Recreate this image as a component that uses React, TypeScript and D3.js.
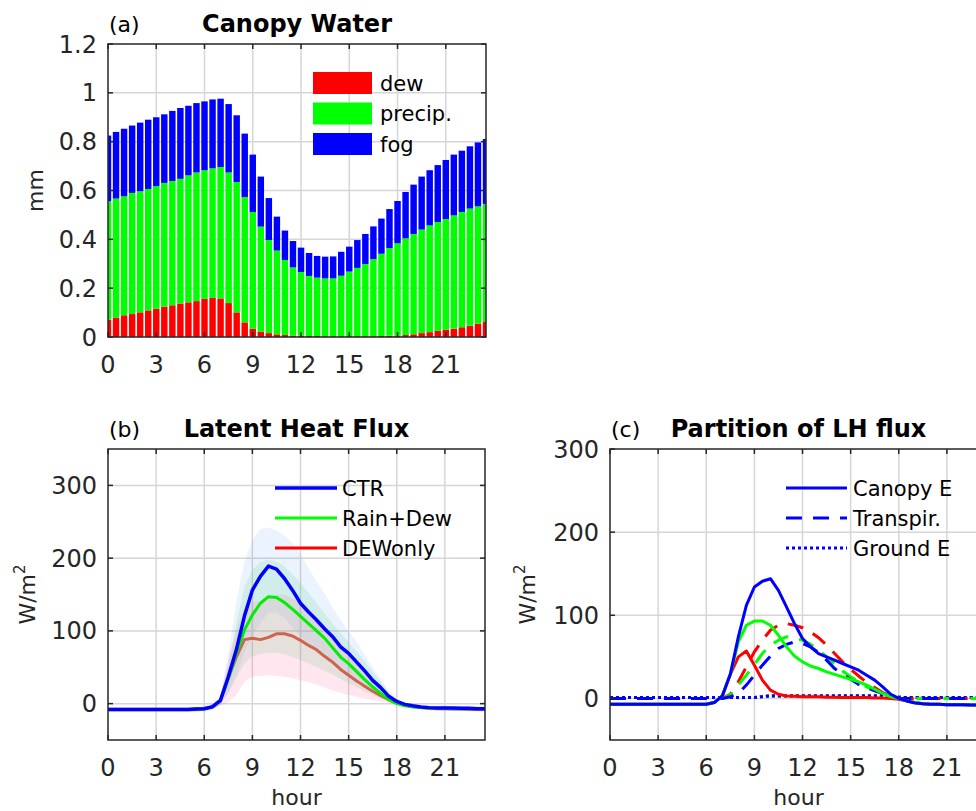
import * as d3 from "d3";
import type { ReactNode } from "react";

const FONT = "DejaVu Sans, Verdana, sans-serif";
const INK = "#262626";

// half-hourly time axis
const hours = [
  0, 0.5, 1, 1.5, 2, 2.5, 3, 3.5, 4, 4.5, 5, 5.5, 6, 6.5, 7, 7.5, 8, 8.5, 9, 9.5, 10, 10.5, 11, 11.5,
  12, 12.5, 13, 13.5, 14, 14.5, 15, 15.5, 16, 16.5, 17, 17.5, 18, 18.5, 19, 19.5, 20, 20.5, 21, 21.5,
  22, 22.5, 23, 23.5,
];
const hourTicks = [0, 3, 6, 9, 12, 15, 18, 21];

// (a) canopy water components, mm
const dew = [
  0.071, 0.08, 0.089, 0.094, 0.101, 0.109, 0.116, 0.124, 0.13, 0.137, 0.142, 0.147, 0.156, 0.16, 0.158,
  0.139, 0.101, 0.06, 0.034, 0.022, 0.016, 0.011, 0.008, 0.006, 0.005, 0.004, 0.004, 0.003, 0.003, 0.003,
  0.003, 0.003, 0.003, 0.003, 0.004, 0.005, 0.006, 0.008, 0.011, 0.016, 0.02, 0.025, 0.03, 0.034, 0.04,
  0.046, 0.055, 0.064,
];
const precip = [
  0.485, 0.487, 0.487, 0.496, 0.496, 0.497, 0.502, 0.507, 0.509, 0.511, 0.52, 0.527, 0.527, 0.531, 0.538,
  0.535, 0.534, 0.513, 0.478, 0.43, 0.381, 0.343, 0.307, 0.279, 0.261, 0.246, 0.239, 0.237, 0.237, 0.248,
  0.265, 0.28, 0.296, 0.316, 0.337, 0.359, 0.378, 0.396, 0.411, 0.424, 0.437, 0.446, 0.453, 0.464, 0.472,
  0.48, 0.48, 0.481,
];
const fog = [
  0.269, 0.273, 0.277, 0.276, 0.281, 0.284, 0.282, 0.281, 0.287, 0.29, 0.285, 0.284, 0.282, 0.282, 0.28,
  0.28, 0.273, 0.26, 0.235, 0.205, 0.172, 0.139, 0.121, 0.108, 0.1, 0.094, 0.089, 0.089, 0.09, 0.098,
  0.102, 0.114, 0.123, 0.134, 0.144, 0.16, 0.173, 0.19, 0.202, 0.217, 0.226, 0.233, 0.242, 0.249, 0.251,
  0.255, 0.262, 0.266,
];
const waterKeys = ["dew", "precip", "fog"];
const waterLabels = ["dew", "precip.", "fog"];
const waterColors = ["#ff0000", "#00ff00", "#0000ff"];
const aYTicks = [0, 0.2, 0.4, 0.6, 0.8, 1, 1.2];

// (b) latent heat flux, W/m2
const ctr = [
  -8, -8, -8, -8, -8, -8, -8, -8, -8, -8, -8, -7.5, -7, -4.5, 4, 37, 74, 120, 156, 175, 189, 185, 172,
  156, 138, 126, 115, 103, 92, 78, 69, 57, 45, 32, 22, 10, 3, -1, -3, -4.5, -5.5, -6, -6, -6, -6.5, -6.5,
  -7, -7,
];
const rainDew = [
  -8, -8, -8, -8, -8, -8, -8, -8, -8, -8, -8, -7.5, -7, -4.5, 4, 35, 69, 101, 122, 138, 147, 146, 139,
  130, 120, 110, 100, 90, 77, 64, 55, 44, 33, 23, 14, 5.5, 0, -3, -4.5, -5.5, -6, -6.5, -6.5, -7, -7, -7,
  -7, -7,
];
const dewOnly = [
  -8, -8, -8, -8, -8, -8, -8, -8, -8, -8, -8, -7.5, -7, -4.5, 4, 35, 64, 88, 90, 88, 91, 96, 96, 93, 87,
  80, 74, 65, 57, 47, 39, 31, 24, 17, 11, 5.5, 1, -2, -4, -5.5, -6.5, -7, -7, -7.5, -7.5, -8, -8, -8,
];
// spread bands
const ctrHi = [
  -5, -5, -5, -5, -5, -5, -5, -5, -5, -5, -5, -5, -4, -1, 10, 70, 140, 195, 225, 240, 242, 238, 231, 220,
  205, 186, 168, 152, 132, 115, 100, 85, 67, 50, 34, 18, 6, 1, -1, -2, -3, -3, -3, -4, -4, -4, -4, -4,
];
const ctrLo = [
  -11, -11, -11, -11, -11, -11, -11, -11, -11, -11, -11, -11, -10, -8, -2, 15, 40, 70, 95, 110, 125, 125,
  118, 105, 92, 82, 72, 62, 54, 44, 37, 30, 22, 15, 9, 3, 0, -3, -5, -6, -8, -8, -9, -9, -9, -10, -10, -10,
];
const rainHi = [
  -5, -5, -5, -5, -5, -5, -5, -5, -5, -5, -5, -5, -4, -1, 8, 50, 110, 160, 184, 195, 198, 195, 189, 178,
  166, 152, 138, 124, 110, 97, 84, 72, 58, 44, 30, 15, 4, 0, -2, -3, -4, -4, -4, -4, -4, -4, -4, -4,
];
const rainLo = [
  -11, -11, -11, -11, -11, -11, -11, -11, -11, -11, -11, -11, -10, -8, -2, 15, 35, 55, 65, 68, 70, 70, 68,
  64, 60, 55, 50, 45, 40, 34, 28, 22, 17, 12, 7, 3, -1, -4, -6, -7, -8, -9, -9, -9, -10, -10, -10, -10,
];
const dewHi = [
  -5, -5, -5, -5, -5, -5, -5, -5, -5, -5, -5, -5, -4, -1, 8, 60, 100, 130, 140, 140, 145, 150, 150, 145,
  138, 128, 118, 105, 94, 82, 70, 58, 46, 34, 22, 12, 3, 0, -2, -3, -4, -4, -4, -4, -4, -5, -5, -5,
];
const dewLo = [
  -11, -11, -11, -11, -11, -11, -11, -11, -11, -11, -11, -11, -10, -8, -3, 2, 12, 30, 37, 38, 39, 38, 37,
  35, 32, 29, 26, 22, 18, 15, 12, 9, 7, 5, 3, 1, -1, -4, -6, -8, -9, -9, -10, -10, -10, -11, -11, -11,
];
const bYTicks = [0, 100, 200, 300];
const runNames = ["CTR", "Rain+Dew", "DEWonly"];

// (c) partition of LH flux, W/m2
const canopyCtr = [
  -7, -7, -7, -7, -7, -7, -7, -7, -7, -7, -7, -7, -7, -5, 3, 29, 74, 112, 134, 141, 144, 130, 110, 90, 72,
  62, 54, 50, 46, 42, 38, 34, 28, 22, 14, 5, 0, -3, -5.5, -6.5, -7, -7, -7.5, -7.5, -7.5, -8, -8, -8,
];
const canopyRain = [
  -7, -7, -7, -7, -7, -7, -7, -7, -7, -7, -7, -7, -7, -5, 3, 29, 68, 88, 93, 93, 88, 76, 62, 51, 44, 39,
  36, 32, 29, 26, 23, 20, 16, 11, 6, 2, 0, -3, -5, -6.5, -7, -7, -7.5, -7.5, -7.5, -8, -8, -8,
];
const canopyDew = [
  -7, -7, -7, -7, -7, -7, -7, -7, -7, -7, -7, -7, -7, -5, 3, 29, 50, 57, 40, 22, 10, 5, 3, 2.5, 2, 2, 2,
  1.5, 1.5, 1, 1, 1, 1, 0.5, 0.5, 0, -1, -3, -5, -6.5, -7, -7, -7.5, -7.5, -7.5, -8, -8, -8,
];
const transpCtr = [
  0, 0, 0, 0, 0, 0, 0, 0, 0, 0, 0, 0, 0, 0, 0, 2, 6, 16, 28, 40, 51, 60, 65, 68, 66, 62, 55, 46, 36, 29,
  23, 17, 13, 9, 6, 3, 0, 0, 0, 0, 0, 0, 0, 0, 0, 0, 0, 0,
];
const transpRain = [
  0, 0, 0, 0, 0, 0, 0, 0, 0, 0, 0, 0, 0, 0, 0, 4, 16, 28, 41, 54, 64, 70, 74, 73, 70, 65, 58, 50, 42, 33,
  26, 20, 14, 10, 6, 3, 0, 0, 0, 0, 0, 0, 0, 0, 0, 0, 0, 0,
];
const transpDew = [
  0, 0, 0, 0, 0, 0, 0, 0, 0, 0, 0, 0, 0, 0, 0, 5, 20, 38, 56, 70, 82, 88, 90, 88, 85, 80, 73, 64, 54, 44,
  35, 27, 19, 13, 7, 3, 0, 0, 0, 0, 0, 0, 0, 0, 0, 0, 0, 0,
];
const groundCtr = [
  1, 1, 1, 1, 1, 1, 1, 1, 1, 1, 1, 1, 1, 1, 1, 1, 1, 1, 1, 2, 3, 3, 3, 3, 3, 3, 3, 3, 3, 3, 3, 3, 3, 3, 3,
  3, 1.5, 1, 1, 1, 1, 1, 1, 1, 1, 1, 1, 1,
];
const groundRain = [
  1, 1, 1, 1, 1, 1, 1, 1, 1, 1, 1, 1, 1, 1, 1, 1, 1, 1, 1, 2, 3, 3, 3, 3, 3, 3, 3, 3, 3, 3, 3, 3, 3, 3, 3,
  3, 1.5, 1, 1, 1, 1, 1, 1, 1, 1, 1, 1, 1,
];
const groundDew = [
  1, 1, 1, 1, 1, 1, 1, 1, 1, 1, 1, 1, 1, 1, 1, 1, 1, 1, 1, 2.5, 3.5, 3.5, 3.5, 3.5, 3.5, 3.5, 3.5, 3.5,
  3.5, 3.5, 3.5, 3.5, 3.5, 3.5, 3.5, 3.5, 1.5, 1, 1, 1, 1, 1, 1, 1, 1, 1, 1, 1,
];
const cYTicks = [0, 100, 200, 300];
const partNames = ["Canopy E", "Transpir.", "Ground E"];

type Lin = d3.ScaleLinear<number, number>;

type FrameProps = {
  id: string;
  x: Lin;
  y: Lin;
  yTicks: number[];
  tag: string;
  title: string;
  ylabel: ReactNode;
  ylabelX: number;
  xlabel?: string;
  children: ReactNode;
  overlay?: ReactNode;
};

const Frame = ({ id, x, y, yTicks, tag, title, ylabel, ylabelX, xlabel, children, overlay }: FrameProps) => {
  const [x0, x1] = x.range();
  const [y0, y1] = y.range(); // y0 bottom, y1 top
  const fmt = d3.format("~g");
  const tick = 5;
  return (
    <g>
      <defs>
        <clipPath id={id}>
          <rect x={x0} y={y1} width={x1 - x0} height={y0 - y1} />
        </clipPath>
      </defs>
      <rect x={x0} y={y1} width={x1 - x0} height={y0 - y1} fill="#fff" />
      <g stroke="#d6d6d6" strokeWidth={1.5}>
        {hourTicks.slice(1).map((t) => (
          <line key={"gx" + t} x1={x(t)} x2={x(t)} y1={y0} y2={y1} />
        ))}
        {yTicks
          .filter((t) => t > y.domain()[0] && t < y.domain()[1])
          .map((t) => (
            <line key={"gy" + t} x1={x0} x2={x1} y1={y(t)} y2={y(t)} />
          ))}
      </g>
      <g clipPath={`url(#${id})`}>{children}</g>
      <g stroke={INK} strokeWidth={1.5}>
        {hourTicks.map((t) => (
          <g key={"tx" + t}>
            <line x1={x(t)} x2={x(t)} y1={y0} y2={y0 - tick} />
            <line x1={x(t)} x2={x(t)} y1={y1} y2={y1 + tick} />
          </g>
        ))}
        {yTicks.map((t) => (
          <g key={"ty" + t}>
            <line x1={x0} x2={x0 + tick} y1={y(t)} y2={y(t)} />
            <line x1={x1} x2={x1 - tick} y1={y(t)} y2={y(t)} />
          </g>
        ))}
        <rect x={x0} y={y1} width={x1 - x0} height={y0 - y1} fill="none" />
      </g>
      <g fontFamily={FONT} fontSize={24} fill={INK}>
        {hourTicks.map((t) => (
          <text key={"lx" + t} x={x(t)} y={y0 + 36} textAnchor="middle">
            {t}
          </text>
        ))}
        {yTicks.map((t) => (
          <text key={"ly" + t} x={x0 - 11} y={y(t) + 8.5} textAnchor="end">
            {fmt(t)}
          </text>
        ))}
      </g>
      <text x={x0 + 1} y={y1 - 12} fontFamily={FONT} fontSize={22} fill="#000">
        {tag}
      </text>
      <text
        x={(x0 + x1) / 2}
        y={y1 - 12}
        fontFamily={FONT}
        fontSize={24}
        fontWeight="bold"
        textAnchor="middle"
        fill="#000"
      >
        {title}
      </text>
      <text
        transform={`translate(${ylabelX},${(y0 + y1) / 2}) rotate(-90)`}
        fontFamily={FONT}
        fontSize={22}
        textAnchor="middle"
        fill={INK}
      >
        {ylabel}
      </text>
      {xlabel && (
        <text x={(x0 + x1) / 2} y={y0 + 65} fontFamily={FONT} fontSize={22} textAnchor="middle" fill={INK}>
          {xlabel}
        </text>
      )}
      {overlay}
    </g>
  );
};

const wm2 = (
  <>
    W/m
    <tspan dy={-10} fontSize={15}>
      2
    </tspan>
  </>
);

export default function App() {
  const xDomain: [number, number] = [0, 23.5];

  // ---- (a)
  const xa = d3.scaleLinear().domain(xDomain).range([108, 486]);
  const ya = d3.scaleLinear().domain([0, 1.2]).range([337, 44]);
  const rows = hours.map((h, i) => ({ h, dew: dew[i], precip: precip[i], fog: fog[i] }));
  const stacked = d3.stack<(typeof rows)[number]>().keys(waterKeys)(rows);
  const barW = xa(0.4) - xa(0);

  // ---- (b)
  const xb = d3.scaleLinear().domain(xDomain).range([108, 485]);
  const yb = d3.scaleLinear().domain([-50, 350]).range([740, 449]);
  const lineB = d3
    .line<number>()
    .x((_, i) => xb(hours[i]))
    .y((v) => yb(v));
  const bandB = (lo: number[], hi: number[]) =>
    d3
      .area<number>()
      .x((_, i) => xb(hours[i]))
      .y0((_, i) => yb(lo[i]))
      .y1((_, i) => yb(hi[i]))(hours) ?? "";

  // ---- (c)
  const xc = d3.scaleLinear().domain(xDomain).range([610, 987]);
  const yc = d3.scaleLinear().domain([-50, 300]).range([740, 449]);
  const lineC = d3
    .line<number>()
    .x((_, i) => xc(hours[i]))
    .y((v) => yc(v));

  const runColors = ["#0000ff", "#00ff00", "#ff0000"];
  const dash = "16,11";
  const dot = "3,3";

  return (
    <div style={{ position: "absolute", left: 0, top: 0 }}>
      <svg width={976} height={811} style={{ display: "block", background: "#fff" }}>
        <rect width={976} height={811} fill="#fff" />

        {/* (a) Canopy Water */}
        <Frame
          id="clipA"
          x={xa}
          y={ya}
          yTicks={aYTicks}
          tag="(a)"
          title="Canopy Water"
          ylabel="mm"
          ylabelX={43}
          overlay={
            <g>
              {waterLabels.map((lab, i) => (
                <g key={lab}>
                  <rect x={313} y={72 + i * 30.5} width={59} height={22} fill={waterColors[i]} />
                  <text x={380} y={83 + i * 30.5 + 7.5} fontFamily={FONT} fontSize={21} fill="#000">
                    {lab}
                  </text>
                </g>
              ))}
            </g>
          }
        >
          {stacked.map((layer, k) => (
            <g key={layer.key} fill={waterColors[k]}>
              {layer.map((d, i) => (
                <rect
                  key={i}
                  x={xa(hours[i]) - barW / 2}
                  width={barW}
                  y={ya(d[1])}
                  height={ya(d[0]) - ya(d[1])}
                />
              ))}
            </g>
          ))}
        </Frame>

        {/* (b) Latent Heat Flux */}
        <Frame
          id="clipB"
          x={xb}
          y={yb}
          yTicks={bYTicks}
          tag="(b)"
          title="Latent Heat Flux"
          ylabel={wm2}
          ylabelX={35}
          xlabel="hour"
          overlay={
            <g>
              {runNames.map((n, i) => (
                <g key={n}>
                  <line
                    x1={275}
                    x2={337}
                    y1={488 + i * 30}
                    y2={488 + i * 30}
                    stroke={runColors[i]}
                    strokeWidth={i === 0 ? 3.5 : 3}
                  />
                  <text x={342} y={488 + i * 30 + 7.5} fontFamily={FONT} fontSize={21} fill="#000">
                    {n}
                  </text>
                </g>
              ))}
            </g>
          }
        >
          <path d={bandB(ctrLo, ctrHi)} fill="#4d94ff" fillOpacity={0.11} />
          <path d={bandB(rainLo, rainHi)} fill="#33cc66" fillOpacity={0.14} />
          <path d={bandB(dewLo, dewHi)} fill="#ff6699" fillOpacity={0.16} />
          <path d={lineB(dewOnly) ?? ""} fill="none" stroke="#cd6450" strokeWidth={3} strokeLinejoin="round" />
          <path d={lineB(rainDew) ?? ""} fill="none" stroke="#00ee00" strokeWidth={3} strokeLinejoin="round" />
          <path d={lineB(ctr) ?? ""} fill="none" stroke="#0000ff" strokeWidth={3.5} strokeLinejoin="round" />
        </Frame>

        {/* (c) Partition of LH flux */}
        <Frame
          id="clipC"
          x={xc}
          y={yc}
          yTicks={cYTicks}
          tag="(c)"
          title="Partition of LH flux"
          ylabel={wm2}
          ylabelX={535}
          xlabel="hour"
          overlay={
            <g>
              {partNames.map((n, i) => (
                <g key={n}>
                  <line
                    x1={786}
                    x2={847}
                    y1={488 + i * 30}
                    y2={488 + i * 30}
                    stroke="#0000ff"
                    strokeWidth={3}
                    strokeDasharray={i === 1 ? dash : i === 2 ? dot : undefined}
                  />
                  <text x={853} y={488 + i * 30 + 7.5} fontFamily={FONT} fontSize={21} fill="#000">
                    {n}
                  </text>
                </g>
              ))}
            </g>
          }
        >
          {[groundDew, groundRain, groundCtr].map((s, i) => (
            <path
              key={"g" + i}
              d={lineC(s) ?? ""}
              fill="none"
              stroke={runColors[2 - i]}
              strokeWidth={3}
              strokeDasharray={dot}
            />
          ))}
          {[transpDew, transpRain, transpCtr].map((s, i) => (
            <path
              key={"t" + i}
              d={lineC(s) ?? ""}
              fill="none"
              stroke={runColors[2 - i]}
              strokeWidth={3}
              strokeDasharray={dash}
            />
          ))}
          {[canopyDew, canopyRain, canopyCtr].map((s, i) => (
            <path
              key={"c" + i}
              d={lineC(s) ?? ""}
              fill="none"
              stroke={runColors[2 - i]}
              strokeWidth={3}
              strokeLinejoin="round"
            />
          ))}
        </Frame>
      </svg>
    </div>
  );
}
